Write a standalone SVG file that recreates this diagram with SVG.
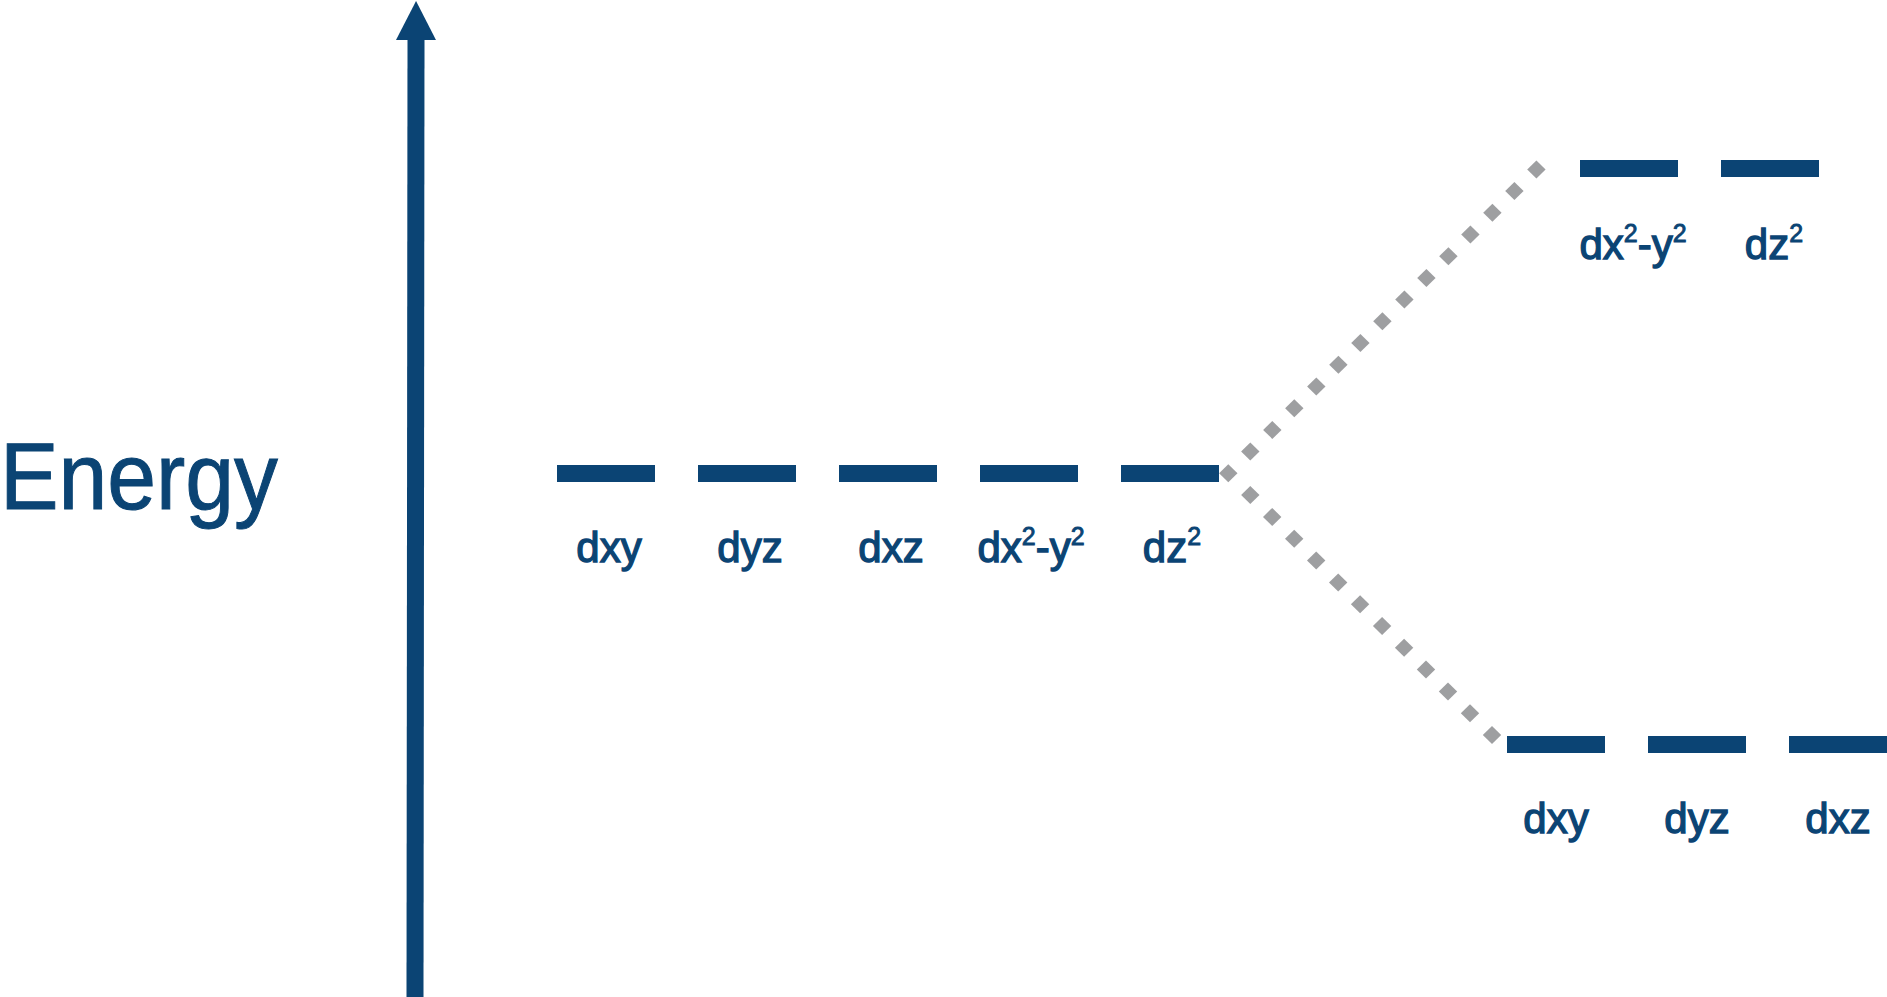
<svg xmlns="http://www.w3.org/2000/svg" xmlns:xlink="http://www.w3.org/1999/xlink" width="1887" height="997" viewBox="0 0 1887 997">
<style>
.bar{fill:#0b4474}
.lbl{font-family:"Liberation Sans",Arial,sans-serif;font-size:42px;fill:#0b4474;stroke:#0b4474;stroke-width:1.3px;text-anchor:middle}
.sup{font-size:25px;stroke-width:0.9px}
.axis{stroke:#0b4474;stroke-width:17;fill:none}
.dot{fill:#9e9fa1}
</style>
<defs>
<marker id="head" markerUnits="userSpaceOnUse" markerWidth="40" markerHeight="40" viewBox="0 0 40 40" refX="0" refY="20" orient="auto">
<path d="M0,0 L39,20 L0,40 z" fill="#0b4474"/>
</marker>
<polygon id="d" class="dot" points="0,-9 9.2,0 0,9 -9.2,0"/>
</defs>
<rect width="1887" height="997" fill="#ffffff"/>
<g id="axis">
<line class="axis" x1="415" y1="997" x2="416" y2="40" marker-end="url(#head)"/>
<text x="0" y="509" font-family="Liberation Sans,Arial,sans-serif" font-size="94" fill="#0b4474" stroke="#0b4474" stroke-width="1" textLength="278" lengthAdjust="spacingAndGlyphs">Energy</text>
</g>
<g id="connectors">
<use xlink:href="#d" x="1228.3" y="473.3"/>
<use xlink:href="#d" x="1250.3" y="451.6"/>
<use xlink:href="#d" x="1272.3" y="429.9"/>
<use xlink:href="#d" x="1294.3" y="408.2"/>
<use xlink:href="#d" x="1316.3" y="386.5"/>
<use xlink:href="#d" x="1338.4" y="364.8"/>
<use xlink:href="#d" x="1360.4" y="343.0"/>
<use xlink:href="#d" x="1382.4" y="321.3"/>
<use xlink:href="#d" x="1404.4" y="299.6"/>
<use xlink:href="#d" x="1426.4" y="277.9"/>
<use xlink:href="#d" x="1448.4" y="256.2"/>
<use xlink:href="#d" x="1470.4" y="234.5"/>
<use xlink:href="#d" x="1492.4" y="212.8"/>
<use xlink:href="#d" x="1514.4" y="191.1"/>
<use xlink:href="#d" x="1536.4" y="169.4"/>
<use xlink:href="#d" x="1250.3" y="495.1"/>
<use xlink:href="#d" x="1272.2" y="516.9"/>
<use xlink:href="#d" x="1294.2" y="538.7"/>
<use xlink:href="#d" x="1316.2" y="560.5"/>
<use xlink:href="#d" x="1338.2" y="582.4"/>
<use xlink:href="#d" x="1360.1" y="604.2"/>
<use xlink:href="#d" x="1382.1" y="626.0"/>
<use xlink:href="#d" x="1404.1" y="647.8"/>
<use xlink:href="#d" x="1426.0" y="669.6"/>
<use xlink:href="#d" x="1448.0" y="691.4"/>
<use xlink:href="#d" x="1470.0" y="713.2"/>
<use xlink:href="#d" x="1492.0" y="735.0"/>
</g>
<g id="deg-dxy">
<rect class="bar" x="557" y="465" width="98" height="17"/>
<text class="lbl" x="609" y="562">dxy</text>
</g>
<g id="deg-dyz">
<rect class="bar" x="698" y="465" width="98" height="17"/>
<text class="lbl" x="750" y="562">dyz</text>
</g>
<g id="deg-dxz">
<rect class="bar" x="839" y="465" width="98" height="17"/>
<text class="lbl" x="891" y="562">dxz</text>
</g>
<g id="deg-dx2y2">
<rect class="bar" x="980" y="465" width="98" height="17"/>
<text class="lbl" x="1031" y="562">dx<tspan class="sup" dy="-17">2</tspan><tspan dy="17">-y</tspan><tspan class="sup" dy="-17">2</tspan></text>
</g>
<g id="deg-dz2">
<rect class="bar" x="1121" y="465" width="98" height="17"/>
<text class="lbl" x="1172" y="562">dz<tspan class="sup" dy="-17">2</tspan></text>
</g>
<g id="eg-dx2y2">
<rect class="bar" x="1580" y="160" width="98" height="17"/>
<text class="lbl" x="1633" y="259">dx<tspan class="sup" dy="-17">2</tspan><tspan dy="17">-y</tspan><tspan class="sup" dy="-17">2</tspan></text>
</g>
<g id="eg-dz2">
<rect class="bar" x="1721" y="160" width="98" height="17"/>
<text class="lbl" x="1774" y="259">dz<tspan class="sup" dy="-17">2</tspan></text>
</g>
<g id="t2g-dxy">
<rect class="bar" x="1507" y="736" width="98" height="17"/>
<text class="lbl" x="1556" y="833">dxy</text>
</g>
<g id="t2g-dyz">
<rect class="bar" x="1648" y="736" width="98" height="17"/>
<text class="lbl" x="1697" y="833">dyz</text>
</g>
<g id="t2g-dxz">
<rect class="bar" x="1789" y="736" width="98" height="17"/>
<text class="lbl" x="1838" y="833">dxz</text>
</g>
</svg>
